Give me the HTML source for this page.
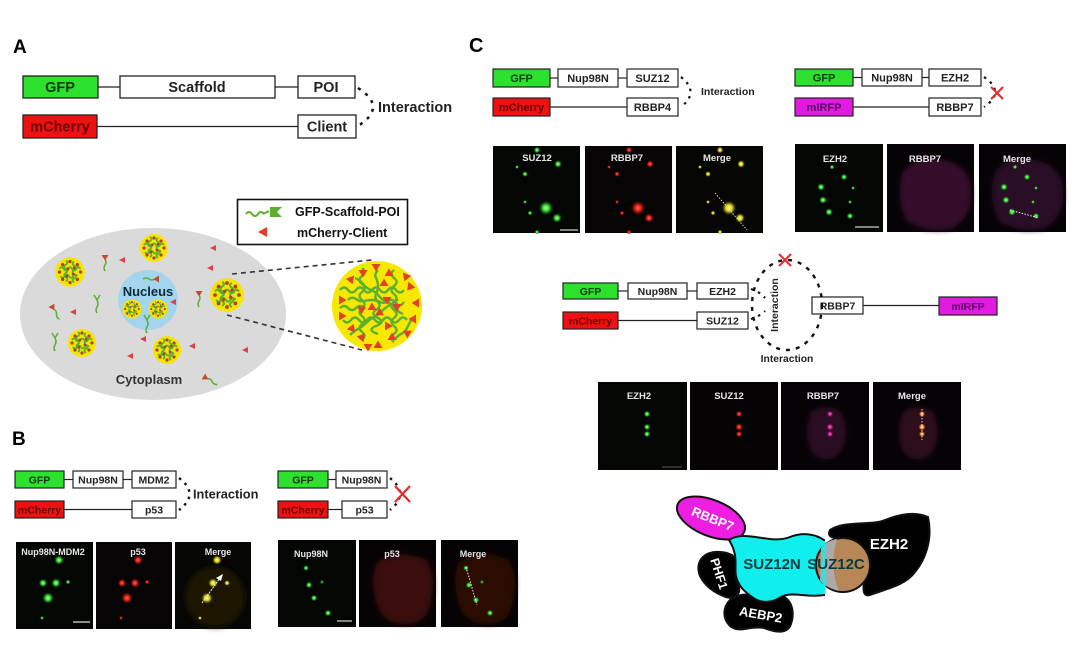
<!DOCTYPE html>
<html><head><meta charset="utf-8"><style>
html,body{margin:0;padding:0;background:#fff;}
svg{display:block;}
text{font-family:"Liberation Sans",Arial,sans-serif;}
</style></head><body>
<svg width="1080" height="658" viewBox="0 0 1080 658" xmlns="http://www.w3.org/2000/svg">
<defs>
<radialGradient id="gG"><stop offset="0" stop-color="#b6ffb0"/><stop offset="0.45" stop-color="#2fd02a"/><stop offset="1" stop-color="#0a400a" stop-opacity="0"/></radialGradient>
<radialGradient id="gR"><stop offset="0" stop-color="#ff6a5a"/><stop offset="0.45" stop-color="#d81a12"/><stop offset="1" stop-color="#400505" stop-opacity="0"/></radialGradient>
<radialGradient id="gY"><stop offset="0" stop-color="#ffff90"/><stop offset="0.45" stop-color="#d8d020"/><stop offset="1" stop-color="#404005" stop-opacity="0"/></radialGradient>
<radialGradient id="gM"><stop offset="0" stop-color="#ff70e0"/><stop offset="0.45" stop-color="#c0208f"/><stop offset="1" stop-color="#400530" stop-opacity="0"/></radialGradient>
<radialGradient id="gO"><stop offset="0" stop-color="#fff0b0"/><stop offset="0.45" stop-color="#e88a30"/><stop offset="1" stop-color="#401505" stop-opacity="0"/></radialGradient>
<filter id="bl" x="-20%" y="-20%" width="140%" height="140%"><feGaussianBlur stdDeviation="3"/></filter>
<g id="sc">
<circle r="14" fill="#f6e500"/>
<path d="M-10 -3 q2 -3 4 0 t4 0 t4 0 t4 0 t4 0 M-9 4 q2 3 4 0 t4 0 t4 0 t4 0 M-4 -11 q3 2 0 4 t0 4 t0 4 t0 4 t0 4 M4 -10 q-3 2 0 4 t0 4 t0 4 t0 4 t0 4" stroke="#5cae32" stroke-width="1.7" fill="none"/>
<g fill="#b0402a">
<circle cx="0" cy="-10" r="1.6"/><circle cx="7" cy="-7" r="1.6"/><circle cx="10" cy="0" r="1.6"/><circle cx="7" cy="7" r="1.6"/><circle cx="0" cy="10" r="1.6"/><circle cx="-7" cy="7" r="1.6"/><circle cx="-10" cy="0" r="1.6"/><circle cx="-7" cy="-7" r="1.6"/><circle cx="-2" cy="-3" r="1.4"/><circle cx="3" cy="2" r="1.4"/><circle cx="-3" cy="4" r="1.3"/><circle cx="4" cy="-4" r="1.3"/>
</g>
</g>
<path id="tri" d="M-4.5 3 L4.5 3 L0 -4.5 Z" fill="#e2402a"/>
<path id="rt" d="M-3 0 L3 -3 L3 3 Z" fill="#e0404a"/>
<g id="mol"><path d="M0 1 q2 3 0 6 t0 6" stroke="#5cae32" stroke-width="1.5" fill="none"/><path d="M-3.5 -3 L3.5 -3 L0 2.5 Z" fill="#c24a30"/></g>
<g id="ym"><path d="M0 0 l-3 -5 M0 0 l3 -5 M0 0 q2 4 0 7 t0 6" stroke="#5cae32" stroke-width="1.5" fill="none"/></g>
</defs>

<!-- ============ PANEL A ============ -->
<text x="13" y="53" font-size="19" font-weight="bold">A</text>
<g stroke="#222" stroke-width="1.3">
<line x1="98" y1="87" x2="120" y2="87"/><line x1="275" y1="87" x2="298" y2="87"/>
<line x1="97" y1="126.5" x2="298" y2="126.5"/>
<rect x="23" y="76" width="75" height="22" fill="#2fe12f"/>
<rect x="120" y="76" width="155" height="22" fill="#fff"/>
<rect x="298" y="76" width="57" height="22" fill="#fff"/>
<rect x="23" y="115" width="74" height="23" fill="#ee1111"/>
<rect x="298" y="115" width="58" height="23" fill="#fff"/>
</g>
<g font-size="14.5" text-anchor="middle" font-weight="bold">
<text x="60" y="92" fill="#0c3a0c">GFP</text>
<text x="197" y="92" fill="#222">Scaffold</text>
<text x="326" y="92" fill="#222">POI</text>
<text x="60" y="131.5" fill="#6b0000">mCherry</text>
<text x="327" y="131.5" fill="#222">Client</text>
</g>
<path d="M358 88 Q388 107 358 126" stroke="#111" stroke-width="2.5" fill="none" stroke-dasharray="3 6"/>
<text x="378" y="112" font-size="14.5" font-weight="bold" fill="#222">Interaction</text>

<!-- legend -->
<rect x="237.5" y="199.5" width="170" height="45" fill="#fff" stroke="#111" stroke-width="1.6"/>
<path d="M246 214 q3 -4 6 0 t6 0 t6 0 M263 214 l6 -3" stroke="#5cae32" stroke-width="2" fill="none"/>
<path d="M270 207 L282 207 L277 212 L282 217 L270 217 Z" fill="#5cae32"/>
<path d="M258 232 L267 227 L267 237 Z" fill="#e0402a"/>
<text x="295" y="216" font-size="12.5" font-weight="bold" fill="#111">GFP-Scaffold-POI</text>
<text x="297" y="237" font-size="12.5" font-weight="bold" fill="#111">mCherry-Client</text>

<!-- cell -->
<ellipse cx="153" cy="314" rx="133" ry="86" fill="#dadada"/>
<circle cx="148" cy="300" r="30" fill="#a3d6ee"/>
<line x1="232" y1="274" x2="372" y2="260" stroke="#333" stroke-width="1.6" stroke-dasharray="5 4"/>
<line x1="227" y1="315" x2="362" y2="350" stroke="#333" stroke-width="1.6" stroke-dasharray="5 4"/>
<use href="#sc" transform="translate(70,272) scale(1.05)"/>
<use href="#sc" transform="translate(154,248)"/>
<use href="#sc" transform="translate(82,343)"/>
<use href="#sc" transform="translate(167,350)"/>
<use href="#sc" transform="translate(132,309) scale(0.68)"/>
<use href="#sc" transform="translate(158,309) scale(0.68)"/>
<use href="#sc" transform="translate(227,295) scale(1.2)"/>
<g>
<use href="#rt" transform="translate(122,260)"/><use href="#rt" transform="translate(213,248)"/><use href="#rt" transform="translate(210,268)"/>
<use href="#rt" transform="translate(73,312)"/><use href="#rt" transform="translate(173,302)"/><use href="#rt" transform="translate(143,339)"/>
<use href="#rt" transform="translate(192,346)"/><use href="#rt" transform="translate(130,356)"/><use href="#rt" transform="translate(245,350)"/>
<use href="#mol" transform="translate(105,258)"/><use href="#mol" transform="translate(199,294)"/>
<use href="#mol" transform="translate(53,308) rotate(-30)"/><use href="#mol" transform="translate(156,279) rotate(90)"/>
<use href="#mol" transform="translate(206,378) rotate(-60)"/>
<use href="#ym" transform="translate(97,300)"/><use href="#ym" transform="translate(55,338)"/><use href="#ym" transform="translate(147,320)"/>
</g>
<text x="148" y="296" text-anchor="middle" font-size="13" font-weight="bold" fill="#0d2a3a">Nucleus</text>
<text x="149" y="384" text-anchor="middle" font-size="13" font-weight="bold" fill="#333">Cytoplasm</text>

<!-- big condensate -->
<circle cx="377" cy="306" r="45" fill="#f7e800"/>
<g stroke="#5cb030" stroke-width="2.4" fill="none">
<path d="M340 290 q4 -5 8 0 t8 0 t8 0 t8 0 t8 0 t8 0 t8 0 t8 0"/>
<path d="M343 320 q4 5 8 0 t8 0 t8 0 t8 0 t8 0 t8 0 t8 0 t8 0"/>
<path d="M362 268 q5 4 0 8 t0 8 t0 8 t0 8 t0 8 t0 8 t0 8 t0 8 t0 8"/>
<path d="M394 270 q-5 4 0 8 t0 8 t0 8 t0 8 t0 8 t0 8 t0 8 t0 8 t0 8"/>
<path d="M348 300 q4 -4 8 -1 t8 2 t8 -1 t8 2 t8 -1 t8 2 t8 -1"/>
<path d="M350 335 q4 -4 8 -6 t8 -6 t8 -6 t8 -6 t8 -6 t8 -6"/>
<path d="M355 278 q5 2 8 6 t8 6 t8 6 t8 6 t8 6 t8 6"/>
<path d="M378 270 q-4 4 -2 8 t2 8 t-2 8 t2 8 t-2 8 t2 8 t-2 8 t2 8"/>
<path d="M340 308 q4 -4 8 0 t8 0 t8 0 M395 340 q2 -4 6 -6 t6 -6 t4 -8"/>
</g>
<g>
<use href="#tri" transform="translate(376,267) rotate(180)"/><use href="#tri" transform="translate(389,273)"/><use href="#tri" transform="translate(363,273) rotate(180)"/>
<use href="#tri" transform="translate(406,277) rotate(200)"/><use href="#tri" transform="translate(351,280) rotate(160)"/><use href="#tri" transform="translate(384,283)"/>
<use href="#tri" transform="translate(410,287) rotate(220)"/><use href="#tri" transform="translate(342,300) rotate(90)"/><use href="#tri" transform="translate(416,303) rotate(270)"/>
<use href="#tri" transform="translate(372,307)"/><use href="#tri" transform="translate(362,309) rotate(60)"/><use href="#tri" transform="translate(387,300) rotate(180)"/>
<use href="#tri" transform="translate(380,313) rotate(120)"/><use href="#tri" transform="translate(342,316) rotate(90)"/><use href="#tri" transform="translate(413,319) rotate(270)"/>
<use href="#tri" transform="translate(388,326) rotate(90)"/><use href="#tri" transform="translate(352,328) rotate(20)"/><use href="#tri" transform="translate(407,333) rotate(300)"/>
<use href="#tri" transform="translate(362,337) rotate(40)"/><use href="#tri" transform="translate(392,337)"/><use href="#tri" transform="translate(378,345)"/>
<use href="#tri" transform="translate(368,347) rotate(180)"/><use href="#tri" transform="translate(397,307) rotate(180)"/>
</g>

<!-- ============ PANEL B ============ -->
<text x="12" y="445" font-size="19" font-weight="bold">B</text>
<g stroke="#222" stroke-width="1.2">
<line x1="64" y1="479.5" x2="73" y2="479.5"/><line x1="123" y1="479.5" x2="132" y2="479.5"/>
<line x1="64" y1="509.5" x2="132" y2="509.5"/>
<rect x="15" y="471" width="49" height="17" fill="#2fe12f"/>
<rect x="73" y="471" width="50" height="17" fill="#fff"/>
<rect x="132" y="471" width="44" height="17" fill="#fff"/>
<rect x="15" y="501" width="49" height="17" fill="#ee1111"/>
<rect x="132" y="501" width="44" height="17" fill="#fff"/>
<line x1="328" y1="479.5" x2="336" y2="479.5"/>
<line x1="328" y1="509.5" x2="342" y2="509.5"/>
<rect x="278" y="471" width="50" height="17" fill="#2fe12f"/>
<rect x="336" y="471" width="51" height="17" fill="#fff"/>
<rect x="278" y="501" width="50" height="17" fill="#ee1111"/>
<rect x="342" y="501" width="45" height="17" fill="#fff"/>
</g>
<g font-size="10.5" font-weight="bold" text-anchor="middle">
<text x="39.5" y="483.5" fill="#0c3a0c">GFP</text>
<text x="98" y="483.5" fill="#222">Nup98N</text>
<text x="154" y="483.5" fill="#222">MDM2</text>
<text x="39.5" y="513.5" fill="#6b0000">mCherry</text>
<text x="154" y="513.5" fill="#222">p53</text>
<text x="303" y="483.5" fill="#0c3a0c">GFP</text>
<text x="361.5" y="483.5" fill="#222">Nup98N</text>
<text x="303" y="513.5" fill="#6b0000">mCherry</text>
<text x="364.5" y="513.5" fill="#222">p53</text>
</g>
<path d="M179 478 Q200 494 179 510" stroke="#111" stroke-width="2.4" fill="none" stroke-dasharray="2.5 5"/>
<text x="193" y="498.5" font-size="12.8" font-weight="bold" fill="#222">Interaction</text>
<path d="M390 478 Q410 494 390 510" stroke="#111" stroke-width="2.4" fill="none" stroke-dasharray="2.5 5"/>
<path d="M395 486 L410 502 M410 486 L395 502" stroke="#e8282a" stroke-width="2.2"/>

<!-- B images left -->
<g transform="translate(16,542)">
<rect width="77" height="87" fill="#040604"/>
<text x="37" y="13" font-size="9" font-weight="bold" fill="#e6e6e6" text-anchor="middle">Nup98N-MDM2</text>
<circle cx="43" cy="18" r="5" fill="url(#gG)"/><circle cx="27" cy="41" r="4.5" fill="url(#gG)"/><circle cx="40" cy="41" r="5" fill="url(#gG)"/><circle cx="52" cy="40" r="2.5" fill="url(#gG)"/><circle cx="32" cy="56" r="6" fill="url(#gG)"/><circle cx="26" cy="76" r="2" fill="url(#gG)"/>
<line x1="57" y1="80" x2="74" y2="80" stroke="#ddd" stroke-width="1.2"/>
</g>
<g transform="translate(96,542)">
<rect width="76" height="87" fill="#060404"/>
<text x="42" y="13" font-size="9" font-weight="bold" fill="#e6e6e6" text-anchor="middle">p53</text>
<circle cx="42" cy="18" r="5" fill="url(#gR)"/><circle cx="26" cy="41" r="4.5" fill="url(#gR)"/><circle cx="39" cy="41" r="5" fill="url(#gR)"/><circle cx="51" cy="40" r="2.5" fill="url(#gR)"/><circle cx="31" cy="56" r="6" fill="url(#gR)"/><circle cx="25" cy="76" r="2" fill="url(#gR)"/>
</g>
<g transform="translate(175,542)">
<rect width="76" height="87" fill="#060604"/>
<ellipse cx="40" cy="55" rx="30" ry="30" fill="#1a1906" filter="url(#bl)"/>
<text x="43" y="13" font-size="9" font-weight="bold" fill="#e6e6e6" text-anchor="middle">Merge</text>
<circle cx="42" cy="18" r="5" fill="url(#gY)"/><circle cx="38" cy="41" r="5" fill="url(#gY)"/><circle cx="52" cy="41" r="3" fill="url(#gY)"/><circle cx="32" cy="56" r="6" fill="url(#gY)"/><circle cx="25" cy="76" r="2" fill="url(#gY)"/>
<line x1="27" y1="61" x2="45" y2="36" stroke="#eee" stroke-width="1" stroke-dasharray="2 1"/>
<path d="M48 32 L41 36 L46 39 Z" fill="#fff"/>
</g>
<!-- B images right -->
<g transform="translate(278,540)">
<rect width="78" height="87" fill="#040604"/>
<text x="33" y="17" font-size="9" font-weight="bold" fill="#e6e6e6" text-anchor="middle">Nup98N</text>
<circle cx="28" cy="28" r="3" fill="url(#gG)"/><circle cx="31" cy="45" r="3.5" fill="url(#gG)"/><circle cx="44" cy="42" r="2.5" fill="url(#gG)" opacity="0.6"/><circle cx="36" cy="58" r="3.5" fill="url(#gG)"/><circle cx="50" cy="73" r="3.5" fill="url(#gG)"/>
<line x1="59" y1="81" x2="74" y2="81" stroke="#ddd" stroke-width="1.2"/>
</g>
<g transform="translate(359,540)">
<rect width="77" height="87" fill="#050303"/>
<path d="M18 22 Q40 8 68 20 Q78 40 72 60 Q70 82 50 84 Q25 86 18 65 Q10 40 18 22 Z" fill="#3a0a08" filter="url(#bl)"/>
<text x="33" y="17" font-size="9" font-weight="bold" fill="#e6e6e6" text-anchor="middle">p53</text>
</g>
<g transform="translate(441,540)">
<rect width="77" height="87" fill="#050303"/>
<path d="M18 22 Q40 8 68 20 Q78 40 72 60 Q70 82 50 84 Q25 86 18 65 Q10 40 18 22 Z" fill="#2c0906" filter="url(#bl)"/>
<text x="32" y="17" font-size="9" font-weight="bold" fill="#e6e6e6" text-anchor="middle">Merge</text>
<circle cx="25" cy="28" r="3" fill="url(#gG)"/><circle cx="28" cy="45" r="3.5" fill="url(#gG)"/><circle cx="41" cy="42" r="2.5" fill="url(#gG)" opacity="0.6"/><circle cx="35" cy="60" r="3.5" fill="url(#gG)"/><circle cx="49" cy="73" r="3.5" fill="url(#gG)"/>
<line x1="25" y1="27" x2="36" y2="65" stroke="#eee" stroke-width="1" stroke-dasharray="1.5 1.5"/>
</g>

<!-- ============ PANEL C ============ -->
<text x="469" y="52" font-size="20" font-weight="bold">C</text>
<g stroke="#222" stroke-width="1.2">
<line x1="550" y1="78" x2="558" y2="78"/><line x1="618" y1="78" x2="627" y2="78"/>
<line x1="550" y1="107" x2="627" y2="107"/>
<rect x="493" y="69" width="57" height="18" fill="#2fe12f"/>
<rect x="558" y="69" width="60" height="18" fill="#fff"/>
<rect x="627" y="69" width="51" height="18" fill="#fff"/>
<rect x="493" y="98" width="57" height="18" fill="#ee1111"/>
<rect x="627" y="98" width="51" height="18" fill="#fff"/>
<line x1="853" y1="77.5" x2="862" y2="77.5"/><line x1="922" y1="77.5" x2="929" y2="77.5"/>
<line x1="853" y1="107" x2="929" y2="107"/>
<rect x="795" y="69" width="58" height="17" fill="#2fe12f"/>
<rect x="862" y="69" width="60" height="17" fill="#fff"/>
<rect x="929" y="69" width="52" height="17" fill="#fff"/>
<rect x="795" y="98" width="58" height="18" fill="#e11be1"/>
<rect x="929" y="98" width="52" height="18" fill="#fff"/>
</g>
<g font-size="11" font-weight="bold" text-anchor="middle">
<text x="521.5" y="82" fill="#0c3a0c">GFP</text>
<text x="588" y="82" fill="#222">Nup98N</text>
<text x="652.5" y="82" fill="#222">SUZ12</text>
<text x="521.5" y="111" fill="#6b0000">mCherry</text>
<text x="652.5" y="111" fill="#222">RBBP4</text>
<text x="824" y="81.5" fill="#0c3a0c">GFP</text>
<text x="892" y="81.5" fill="#222">Nup98N</text>
<text x="955" y="81.5" fill="#222">EZH2</text>
<text x="824" y="111" fill="#5a0060">mIRFP</text>
<text x="955" y="111" fill="#222">RBBP7</text>
</g>
<path d="M681 77 Q700 92 681 107" stroke="#111" stroke-width="2.2" fill="none" stroke-dasharray="2.5 5"/>
<text x="701" y="95" font-size="10.5" font-weight="bold" fill="#222">Interaction</text>
<path d="M984 77 Q1006 92 984 107" stroke="#111" stroke-width="2.2" fill="none" stroke-dasharray="2.5 5"/>
<path d="M991 87 L1003 99 M1003 87 L991 99" stroke="#e8282a" stroke-width="2"/>

<!-- C top-left images -->
<g transform="translate(493,146)">
<rect width="87" height="87" fill="#040604"/>
<text x="44" y="15" font-size="9.5" font-weight="bold" fill="#e6e6e6" text-anchor="middle">SUZ12</text>
<circle cx="44" cy="4" r="3.5" fill="url(#gG)"/><circle cx="65" cy="18" r="4" fill="url(#gG)"/><circle cx="32" cy="28" r="3" fill="url(#gG)"/><circle cx="24" cy="21" r="2" fill="url(#gG)"/><circle cx="53" cy="62" r="7.5" fill="url(#gG)"/><circle cx="64" cy="72" r="5" fill="url(#gG)"/><circle cx="37" cy="67" r="2.5" fill="url(#gG)"/><circle cx="32" cy="56" r="2" fill="url(#gG)"/><circle cx="44" cy="86" r="2.5" fill="url(#gG)"/>
<line x1="67" y1="84" x2="85" y2="84" stroke="#ccc" stroke-width="1.2"/>
</g>
<g transform="translate(585,146)">
<rect width="87" height="87" fill="#060404"/>
<text x="42" y="15" font-size="9.5" font-weight="bold" fill="#e6e6e6" text-anchor="middle">RBBP7</text>
<circle cx="44" cy="4" r="3.5" fill="url(#gR)"/><circle cx="65" cy="18" r="4" fill="url(#gR)"/><circle cx="32" cy="28" r="3" fill="url(#gR)"/><circle cx="24" cy="21" r="2" fill="url(#gR)"/><circle cx="53" cy="62" r="7.5" fill="url(#gR)"/><circle cx="64" cy="72" r="5" fill="url(#gR)"/><circle cx="37" cy="67" r="2.5" fill="url(#gR)"/><circle cx="32" cy="56" r="2" fill="url(#gR)"/><circle cx="44" cy="86" r="2.5" fill="url(#gR)"/>
</g>
<g transform="translate(676,146)">
<rect width="87" height="87" fill="#060604"/>
<text x="41" y="15" font-size="9.5" font-weight="bold" fill="#e6e6e6" text-anchor="middle">Merge</text>
<circle cx="44" cy="4" r="3.5" fill="url(#gY)"/><circle cx="65" cy="18" r="4" fill="url(#gY)"/><circle cx="32" cy="28" r="3" fill="url(#gY)"/><circle cx="24" cy="21" r="2" fill="url(#gY)"/><circle cx="53" cy="62" r="7.5" fill="url(#gY)"/><circle cx="64" cy="72" r="5" fill="url(#gY)"/><circle cx="37" cy="67" r="2.5" fill="url(#gY)"/><circle cx="32" cy="56" r="2" fill="url(#gY)"/><circle cx="44" cy="86" r="2.5" fill="url(#gY)"/>
<line x1="39" y1="47" x2="71" y2="84" stroke="#ddd" stroke-width="0.9" stroke-dasharray="1.5 1.5"/>
</g>

<!-- C top-right images -->
<g transform="translate(795,144)">
<rect width="88" height="88" fill="#040604"/>
<text x="40" y="18" font-size="9.5" font-weight="bold" fill="#e6e6e6" text-anchor="middle">EZH2</text>
<circle cx="37" cy="23" r="2.5" fill="url(#gG)"/><circle cx="49" cy="33" r="3.5" fill="url(#gG)"/><circle cx="26" cy="43" r="4" fill="url(#gG)"/><circle cx="28" cy="56" r="4" fill="url(#gG)"/><circle cx="34" cy="68" r="4" fill="url(#gG)"/><circle cx="55" cy="72" r="3.5" fill="url(#gG)"/><circle cx="58" cy="44" r="2" fill="url(#gG)"/><circle cx="55" cy="58" r="2" fill="url(#gG)"/>
<line x1="60" y1="83" x2="84" y2="83" stroke="#ccc" stroke-width="1.2"/>
</g>
<g transform="translate(887,144)">
<rect width="87" height="88" fill="#060306"/>
<path d="M16 28 Q30 10 55 16 Q82 20 84 45 Q86 72 66 84 Q40 90 20 77 Q8 55 16 28 Z" fill="#34102c" filter="url(#bl)"/>
<text x="38" y="18" font-size="9.5" font-weight="bold" fill="#e6e6e6" text-anchor="middle">RBBP7</text>
</g>
<g transform="translate(979,144)">
<rect width="87" height="88" fill="#060306"/>
<path d="M16 28 Q30 10 55 16 Q82 20 84 45 Q86 72 66 84 Q40 90 20 77 Q8 55 16 28 Z" fill="#2c0d28" filter="url(#bl)"/>
<text x="38" y="18" font-size="9.5" font-weight="bold" fill="#e6e6e6" text-anchor="middle">Merge</text>
<circle cx="36" cy="23" r="2.5" fill="url(#gG)"/><circle cx="48" cy="33" r="3.5" fill="url(#gG)"/><circle cx="25" cy="43" r="4" fill="url(#gG)"/><circle cx="27" cy="56" r="4" fill="url(#gG)"/><circle cx="33" cy="68" r="4" fill="url(#gG)"/><circle cx="57" cy="72" r="3.5" fill="url(#gG)"/><circle cx="57" cy="44" r="2" fill="url(#gG)"/><circle cx="54" cy="58" r="2" fill="url(#gG)"/>
<line x1="31" y1="66" x2="60" y2="74" stroke="#eee" stroke-width="1" stroke-dasharray="1.5 1.5"/>
</g>

<!-- C middle diagram -->
<g stroke="#222" stroke-width="1.2">
<line x1="618" y1="291" x2="628" y2="291"/><line x1="687" y1="291" x2="697" y2="291"/>
<line x1="618" y1="320.5" x2="697" y2="320.5"/>
<line x1="863" y1="305.5" x2="939" y2="305.5"/>
<rect x="563" y="283" width="55" height="16" fill="#2fe12f"/>
<rect x="628" y="283" width="59" height="16" fill="#fff"/>
<rect x="697" y="283" width="51" height="16" fill="#fff"/>
<rect x="563" y="312" width="55" height="17" fill="#ee1111"/>
<rect x="697" y="312" width="51" height="17" fill="#fff"/>
<rect x="812" y="297" width="51" height="17" fill="#fff"/>
<rect x="939" y="297" width="58" height="18" fill="#e11be1"/>
</g>
<g font-size="10.5" font-weight="bold" text-anchor="middle">
<text x="590.5" y="295" fill="#0c3a0c">GFP</text>
<text x="657.5" y="295" fill="#222">Nup98N</text>
<text x="722.5" y="295" fill="#222">EZH2</text>
<text x="590.5" y="324.5" fill="#6b0000">mCherry</text>
<text x="722.5" y="324.5" fill="#222">SUZ12</text>
<text x="837.5" y="309.5" fill="#222">RBBP7</text>
<text x="968" y="310" fill="#5a0060">mIRFP</text>
</g>
<ellipse cx="787" cy="305" rx="35" ry="45" stroke="#111" stroke-width="2.4" fill="none" stroke-dasharray="4 6"/>
<path d="M751 289 Q760 292 765 298 M751 319 Q760 316 765 311" stroke="#111" stroke-width="2.2" fill="none" stroke-dasharray="2.5 5"/>
<path d="M779 254 L791 266 M791 254 L779 266" stroke="#e8282a" stroke-width="2"/>
<text transform="translate(778,305) rotate(-90)" font-size="10.5" font-weight="bold" fill="#222" text-anchor="middle">Interaction</text>
<text x="787" y="362" font-size="10.3" font-weight="bold" fill="#222" text-anchor="middle">Interaction</text>

<!-- C middle images -->
<g transform="translate(598,382)">
<rect width="89" height="88" fill="#040604"/>
<text x="41" y="17" font-size="9.5" font-weight="bold" fill="#e6e6e6" text-anchor="middle">EZH2</text>
<circle cx="49" cy="32" r="3.5" fill="url(#gG)"/><circle cx="49" cy="45" r="3.5" fill="url(#gG)"/><circle cx="49" cy="52" r="3.5" fill="url(#gG)"/>
<line x1="64" y1="85" x2="84" y2="85" stroke="#555" stroke-width="1"/>
</g>
<g transform="translate(690,382)">
<rect width="88" height="88" fill="#050303"/>
<text x="39" y="17" font-size="9.5" font-weight="bold" fill="#e6e6e6" text-anchor="middle">SUZ12</text>
<circle cx="49" cy="32" r="3.5" fill="url(#gR)"/><circle cx="49" cy="45" r="4" fill="url(#gR)"/><circle cx="49" cy="52" r="3.5" fill="url(#gR)"/>
</g>
<g transform="translate(781,382)">
<rect width="88" height="88" fill="#050305"/>
<path d="M30 30 Q45 20 60 30 Q70 50 60 70 Q45 85 30 70 Q22 50 30 30 Z" fill="#2a0a22" filter="url(#bl)"/>
<text x="42" y="17" font-size="9.5" font-weight="bold" fill="#e6e6e6" text-anchor="middle">RBBP7</text>
<circle cx="49" cy="32" r="3.5" fill="url(#gM)"/><circle cx="49" cy="45" r="4" fill="url(#gM)"/><circle cx="49" cy="52" r="3.5" fill="url(#gM)"/>
</g>
<g transform="translate(873,382)">
<rect width="88" height="88" fill="#050305"/>
<path d="M30 30 Q45 20 60 30 Q70 50 60 70 Q45 85 30 70 Q22 50 30 30 Z" fill="#2e0a1a" filter="url(#bl)"/>
<text x="39" y="17" font-size="9.5" font-weight="bold" fill="#e6e6e6" text-anchor="middle">Merge</text>
<circle cx="49" cy="32" r="3.5" fill="url(#gO)"/><circle cx="49" cy="45" r="4" fill="url(#gO)"/><circle cx="49" cy="52" r="3.5" fill="url(#gO)"/>
<line x1="49" y1="27" x2="49" y2="58" stroke="#eee" stroke-width="0.9" stroke-dasharray="1.5 1.5"/>
</g>

<!-- protein complex -->
<g stroke="#111" stroke-width="2">
<path d="M830 530 C845 520 870 526 885 520 C900 514 915 511 928 517 C933 540 925 560 915 572 C905 586 882 590 870 595 C860 598 864 582 866 570 C866 556 858 546 845 541 C835 538 826 538 830 530 Z" fill="#000"/>
<ellipse cx="711" cy="518" rx="36" ry="18" transform="rotate(22 711 518)" fill="#ee1ee0"/>
<path d="M703 557 C710 550 724 551 732 555 C739 561 733 575 738 585 C742 592 736 600 726 597 C715 593 705 586 700 576 C697 568 698 562 703 557 Z" fill="#000"/>
<path d="M730 600 C740 590 760 597 775 595 C790 594 796 610 791 624 C787 635 775 632 764 628 C750 625 740 634 730 626 C722 618 723 607 730 600 Z" fill="#000"/>
<path d="M729 540 C745 529 770 545 790 537 C803 532 815 534 824 540 L824 595 C808 598 792 591 781 597 C771 604 760 603 752 597 C745 592 738 586 736 576 C734 566 739 556 729 540 Z" fill="#11eeee"/>
<circle cx="843" cy="565" r="27" fill="#b88758"/>
<path d="M821 548 C826 542 831 540 837 539 C832 555 832 575 839 591 C830 589 824 585 820 581 Z" fill="#aaaaaa" stroke="none"/>
</g>
<path d="M824 541 L824 594" stroke="#11eeee" stroke-width="3"/>
<text x="772" y="569" font-size="15" font-weight="bold" fill="#0a3a3a" text-anchor="middle">SUZ12N</text>
<text x="836" y="569" font-size="15" font-weight="bold" fill="#0a3a3a" text-anchor="middle">SUZ12C</text>
<text x="889" y="549" font-size="15" font-weight="bold" fill="#fff" text-anchor="middle">EZH2</text>
<text transform="translate(711,523) rotate(22)" font-size="13" font-weight="bold" fill="#fff" text-anchor="middle">RBBP7</text>
<text transform="translate(715,575) rotate(72)" font-size="12.5" font-weight="bold" fill="#fff" text-anchor="middle">PHF1</text>
<text transform="translate(760,619) rotate(10)" font-size="13" font-weight="bold" fill="#fff" text-anchor="middle">AEBP2</text>
</svg>
</body></html>
